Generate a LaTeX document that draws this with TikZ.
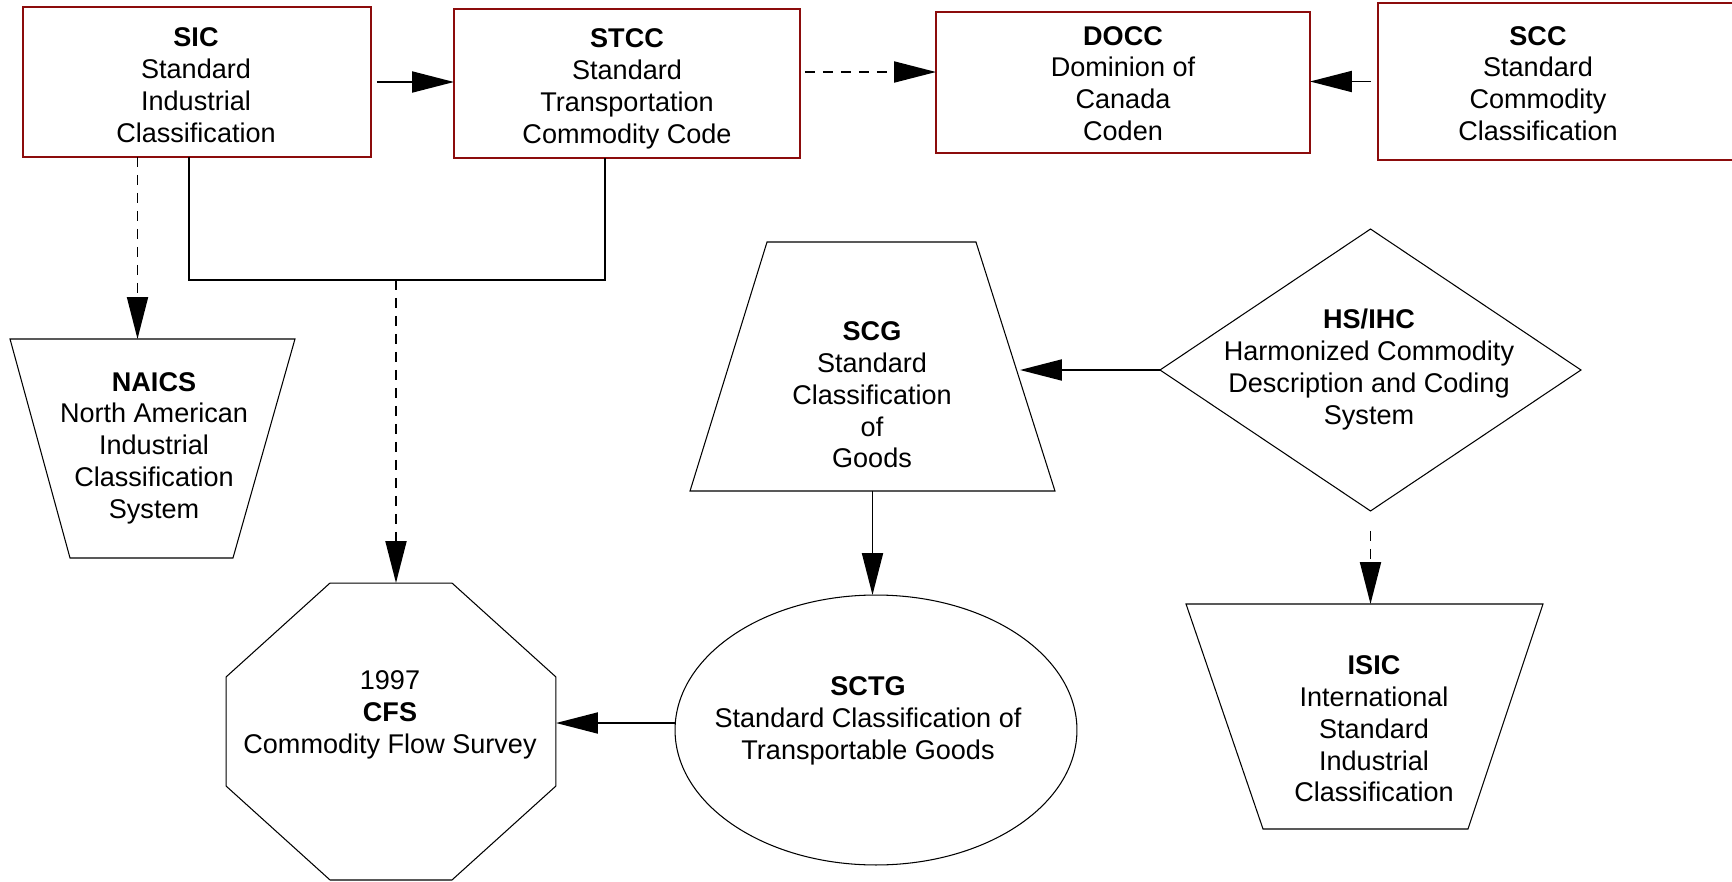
\documentclass[tikz,border=0pt]{standalone}
\usepackage{fontspec}
\setmainfont{Liberation Sans}
\usepackage{xcolor}
\usepackage{tikz}
\usetikzlibrary{arrows.meta,shapes.geometric}

\definecolor{boxred}{RGB}{140,12,12}

\tikzset{
  redbox/.style={draw=boxred,line width=1.1pt,rectangle,inner sep=0pt,outer sep=0pt},
  plain/.style={draw=black,line width=0.6pt,inner sep=0pt,outer sep=0pt},
  frame/.style={rectangle,inner sep=0pt,outer sep=0pt},
  txt/.style={align=center,inner sep=0pt,font=\fontsize{15.4}{18.1}\selectfont},
  conn/.style={line width=1.1pt},
  arr/.style={conn,-{Triangle[length=0.84cm,width=0.42cm]}},
  dasharr/.style={arr,dash pattern=on 0.2cm off 0.16cm}
}

\begin{document}
\begin{tikzpicture}[x=0.02cm,y=-0.02cm]
    \useasboundingbox (0,0) rectangle (1732,882);

    % top row
    \node[redbox,minimum width=6.96cm,minimum height=3cm] (sic) at (197,82) {};
    \node[redbox,minimum width=6.92cm,minimum height=2.98cm] (stcc) at (627,83.5) {};
    \node[redbox,minimum width=7.48cm,minimum height=2.82cm] (docc) at (1123,82.5) {};
    \node[redbox,minimum width=7.34cm,minimum height=3.14cm] (scc) at (1561.5,81.5) {};

    \node[txt] (sictxt) at (196,85) {\textbf{SIC}\\Standard\\Industrial\\Classification};
    \node[txt] (stcctxt) at (627,89) {\textbf{STCC}\\Standard\\Transportation\\Commodity Code};
    \node[txt] (docctxt) at (1123,83.5) {\textbf{DOCC}\\Dominion of\\Canada\\Coden};
    \node[txt] (scctxt) at (1538,83.5) {\textbf{SCC}\\Standard\\Commodity\\Classification};

    % lower shapes, outlines drawn from the node corners
    \node[frame,minimum width=5.7cm,minimum height=4.38cm] (naics) at (152.5,448.5) {};
    \draw[plain] (naics.north west) -- (naics.north east) -- ([xshift=-1.24cm]naics.south east)
      -- ([xshift=1.2cm]naics.south west) -- cycle;
    \node[frame,minimum width=7.3cm,minimum height=4.98cm] (scg) at (872.5,366.5) {};
    \draw[plain] (scg.south west) -- (scg.south east) -- ([xshift=-1.58cm]scg.north east)
      -- ([xshift=1.54cm]scg.north west) -- cycle;
    \node[frame,minimum width=7.14cm,minimum height=4.5cm] (isic) at (1364.5,716.5) {};
    \draw[plain] (isic.north west) -- (isic.north east) -- ([xshift=-1.5cm]isic.south east)
      -- ([xshift=1.54cm]isic.south west) -- cycle;
    \node[frame,minimum width=6.6cm,minimum height=5.94cm] (cfs) at (391,731.5) {};
    \draw[plain] ([xshift=2.08cm]cfs.north west) -- ([xshift=-2.08cm]cfs.north east)
      -- ([yshift=-1.88cm]cfs.north east) -- ([yshift=1.88cm]cfs.south east)
      -- ([xshift=-2.08cm]cfs.south east) -- ([xshift=2.08cm]cfs.south west)
      -- ([yshift=1.88cm]cfs.south west) -- ([yshift=-1.88cm]cfs.north west) -- cycle;
    \node[plain,diamond,minimum width=8.42cm,minimum height=5.64cm] (hs) at (1370.5,370) {};
    \node[plain,ellipse,minimum width=8.04cm,minimum height=5.4cm] (sctg) at (876,730) {};

    \node[txt] (naicstxt) at (154,448) {\textbf{NAICS}\\North American\\Industrial\\Classification\\System};
    \node[txt] (scgtxt) at (872,395) {\textbf{SCG}\\Standard\\Classification\\of\\Goods};
    \node[txt] (hstxt) at (1369,369.5) {\textbf{HS/IHC}\\Harmonized Commodity\\Description and Coding\\System};
    \node[txt] (sctgtxt) at (868,721) {\textbf{SCTG}\\Standard Classification of\\Transportable Goods};
    \node[txt] (isictxt) at (1374,729) {\textbf{ISIC}\\International\\Standard\\Industrial\\Classification};
    \node[txt] (cfstxt) at (390,715) {1997\\\textbf{CFS}\\Commodity Flow Survey};

    % connectors
    \coordinate (join) at (396,280);
    \draw[arr,shorten <=0.12cm] (sic.east) -- (sic.east -| stcc.west);
    \draw[dasharr,shorten <=0.1cm] ([yshift=0.23cm]stcc.east) -- ([yshift=0.23cm]stcc.east -| docc.west);
    \draw[arr,shorten <=0.14cm] (scc.west) -- (scc.west -| docc.east);
    \draw[dasharr] ([xshift=-1.19cm]sic.south) -- ([xshift=-1.19cm]sic.south |- naics.north);
    \draw[conn] ([xshift=-0.16cm]sic.south) |- (join) -| ([xshift=-0.44cm]stcc.south);
    \draw[dasharr] (join) -- (join |- cfs.north);
    \draw[arr] (hs.west) -- ([xshift=-0.7cm]hs.west -| scg.east);
    \draw[arr] (scg.south) -- (scg.south |- sctg.north);
    \draw[arr] ([yshift=0.14cm]sctg.west) -- ([yshift=0.14cm]sctg.west -| cfs.east);
    \draw[dasharr,shorten <=0.4cm] (hs.south) -- (hs.south |- isic.north);
\end{tikzpicture}
\end{document}
